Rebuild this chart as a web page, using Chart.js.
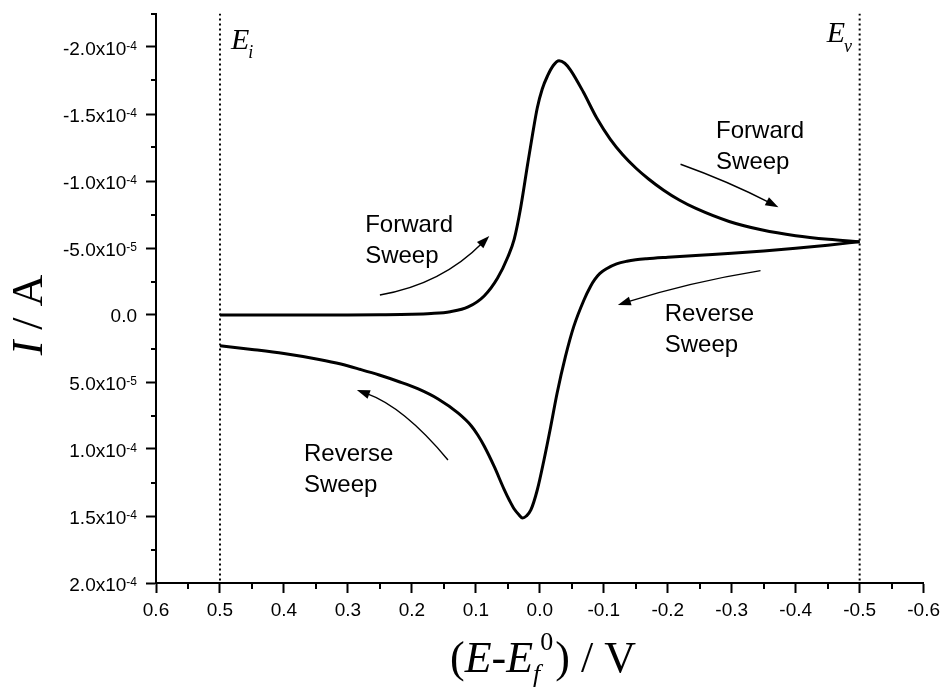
<!doctype html>
<html>
<head>
<meta charset="utf-8">
<title>Cyclic Voltammogram</title>
<script src="https://cdn.jsdelivr.net/npm/chart.js"></script>
<style>
  html, body { margin: 0; padding: 0; background: #fff; }
  canvas { display: block; }
</style>
</head>
<body>
<canvas id="chart" width="946" height="695"></canvas>
<script>
// potential (E - Ef0) / V and current I / A (cathodic current negative, drawn upward)
const forwardE = [0.500, 0.400, 0.300, 0.250, 0.200, 0.170, 0.140, 0.112, 0.087, 0.066, 0.050, 0.040, 0.030,
  0.019, 0.011, 0.004, -0.0038, -0.012, -0.021, -0.030, -0.039, -0.048, -0.068, -0.089, -0.110, -0.130,
  -0.150, -0.170, -0.193, -0.218, -0.244, -0.296, -0.348, -0.400, -0.451, -0.500];
const forwardI = [0, 0, 0, -0.015e-5, -0.05e-5, -0.11e-5, -0.25e-5, -0.60e-5, -1.42e-5, -2.76e-5, -4.33e-5,
  -5.67e-5, -7.99e-5, -11.27e-5, -13.58e-5, -15.45e-5, -16.87e-5, -17.84e-5, -18.62e-5, -18.98e-5, -18.79e-5,
  -18.28e-5, -16.64e-5, -14.70e-5, -13.13e-5, -11.94e-5, -10.97e-5, -10.15e-5, -9.33e-5, -8.58e-5, -7.95e-5,
  -6.98e-5, -6.34e-5, -5.92e-5, -5.65e-5, -5.47e-5];

const reverseE = [-0.500, -0.450, -0.400, -0.350, -0.300, -0.250, -0.200, -0.167, -0.150, -0.136, -0.120,
  -0.105, -0.094, -0.086, -0.079, -0.069, -0.053, -0.040, -0.027, -0.017, -0.0065, 0.004, 0.014, 0.021,
  0.027, 0.033, 0.040, 0.047, 0.056, 0.071, 0.087, 0.097, 0.107, 0.128, 0.159, 0.190, 0.221, 0.251, 0.280,
  0.311, 0.345, 0.400, 0.450, 0.500];
const reverseI = [-5.47e-5, -5.21e-5, -4.98e-5, -4.78e-5, -4.60e-5, -4.46e-5, -4.31e-5, -4.20e-5, -4.12e-5,
  -4.01e-5, -3.81e-5, -3.47e-5, -3.10e-5, -2.65e-5, -2.11e-5, -1.12e-5, 0.87e-5, 3.11e-5, 5.84e-5, 8.34e-5,
  10.82e-5, 13.06e-5, 14.55e-5, 15.0e-5, 15.15e-5, 14.89e-5, 14.48e-5, 13.88e-5, 12.99e-5, 11.34e-5, 9.78e-5,
  8.96e-5, 8.28e-5, 7.31e-5, 6.27e-5, 5.52e-5, 4.96e-5, 4.48e-5, 4.07e-5, 3.66e-5, 3.32e-5, 2.88e-5, 2.57e-5,
  2.29e-5];

// initial and vertex potentials
const markerE = [0.5, -0.5];
const markerName = ['i', 'v'];

const yTickValues = [-2.0e-4, -1.5e-4, -1.0e-4, -5.0e-5, 0, 5.0e-5, 1.0e-4, 1.5e-4, 2.0e-4];
const yTickBase = ['-2.0x10', '-1.5x10', '-1.0x10', '-5.0x10', '0.0', '5.0x10', '1.0x10', '1.5x10', '2.0x10'];
const yTickExp = ['-4', '-4', '-4', '-5', '', '-5', '-4', '-4', '-4'];

// sweep labels and arrows, in data coordinates (E, I)
const sweepLabels = [
  { lines: ['Forward', 'Sweep'], e: 0.273, i: -6.19e-5 },
  { lines: ['Forward', 'Sweep'], e: -0.2755, i: -13.19e-5 },
  { lines: ['Reverse', 'Sweep'], e: -0.1953, i: 0.45e-5 },
  { lines: ['Reverse', 'Sweep'], e: 0.3687, i: 10.87e-5 }
];
const sweepArrows = [
  [[0.250, -1.49e-5], [0.159, -2.99e-5], [0.079, -5.90e-5]],
  [[-0.220, -11.25e-5], [-0.296, -9.80e-5], [-0.373, -8.04e-5]],
  [[-0.345, -3.31e-5], [-0.234, -2.24e-5], [-0.122, -0.75e-5]],
  [[0.1436, 10.82e-5], [0.2135, 7.54e-5], [0.286, 5.60e-5]]
];

const SANS = '"Liberation Sans", Arial, sans-serif';
const SERIF = '"Liberation Serif", "Times New Roman", serif';

function drawRich(ctx, parts, x, y, align) {
  let w = 0;
  parts.forEach(p => { ctx.font = p.font; p.w = ctx.measureText(p.t).width + (p.dx || 0); w += p.w; });
  let cx = align === 'center' ? x - w / 2 : (align === 'right' ? x - w : x);
  ctx.textAlign = 'left';
  parts.forEach(p => { ctx.font = p.font; ctx.fillText(p.t, cx, y + (p.dy || 0)); cx += p.w; });
}

const decorPlugin = {
  id: 'decor',
  afterDraw(chart) {
    const ctx = chart.ctx;
    const xs = chart.scales.x, ys = chart.scales.y;
    const area = chart.chartArea;
    ctx.save();
    ctx.fillStyle = '#000';
    ctx.strokeStyle = '#000';

    // minor ticks
    ctx.lineWidth = 2;
    ctx.beginPath();
    for (let k = 0; k < 9; k++) {
      const v = -2.25e-4 + k * 5e-5;
      const py = Math.round(ys.getPixelForValue(v));
      ctx.moveTo(area.left - 5, py); ctx.lineTo(area.left, py);
    }
    for (let k = 0; k < 12; k++) {
      const v = 0.55 - k * 0.1;
      const px = Math.round(xs.getPixelForValue(v));
      ctx.moveTo(px, area.bottom); ctx.lineTo(px, area.bottom + 6);
    }
    ctx.stroke();

    // y tick labels with exponents
    ctx.textBaseline = 'alphabetic';
    yTickValues.forEach((v, k) => {
      const py = ys.getPixelForValue(v);
      const right = area.left - 19;
      if (yTickExp[k]) {
        ctx.font = '12px ' + SANS;
        const ew = ctx.measureText(yTickExp[k]).width;
        ctx.textAlign = 'right';
        ctx.fillText(yTickExp[k], right, py + 3.3);
        ctx.font = '19px ' + SANS;
        ctx.fillText(yTickBase[k], right - ew, py + 8.3);
      } else {
        ctx.font = '19px ' + SANS;
        ctx.textAlign = 'right';
        ctx.fillText(yTickBase[k], right, py + 7);
      }
    });

    // Ei / Ev labels
    markerE.forEach((e, k) => {
      const px = xs.getPixelForValue(e);
      const x0 = k === 0 ? px + 11 : px - 33;
      ctx.textAlign = 'left';
      ctx.font = 'italic 30px ' + SERIF;
      ctx.fillText('E', x0, k === 0 ? 49 : 42);
      const w = ctx.measureText('E').width;
      ctx.font = 'italic 18px ' + SERIF;
      ctx.fillText(markerName[k], x0 + w - 1, k === 0 ? 58 : 52);
    });

    // sweep labels
    ctx.font = '24px ' + SANS;
    ctx.textAlign = 'left';
    sweepLabels.forEach(l => {
      const px = xs.getPixelForValue(l.e), py = ys.getPixelForValue(l.i);
      l.lines.forEach((t, j) => ctx.fillText(t, px, py + j * 31));
    });

    // arrows
    sweepArrows.forEach(a => {
      const p = a.map(q => [xs.getPixelForValue(q[0]), ys.getPixelForValue(q[1])]);
      const cx = 2 * p[1][0] - (p[0][0] + p[2][0]) / 2;
      const cy = 2 * p[1][1] - (p[0][1] + p[2][1]) / 2;
      const ang = Math.atan2(p[2][1] - cy, p[2][0] - cx);
      const hl = 13, hw = 4.5;
      const bx = p[2][0] - hl * Math.cos(ang), by = p[2][1] - hl * Math.sin(ang);
      ctx.lineWidth = 1.4;
      ctx.beginPath();
      ctx.moveTo(p[0][0], p[0][1]);
      ctx.quadraticCurveTo(cx, cy, bx + 3 * Math.cos(ang), by + 3 * Math.sin(ang));
      ctx.stroke();
      ctx.beginPath();
      ctx.moveTo(p[2][0], p[2][1]);
      ctx.lineTo(bx - hw * Math.sin(ang), by + hw * Math.cos(ang));
      ctx.lineTo(bx + hw * Math.sin(ang), by - hw * Math.cos(ang));
      ctx.closePath();
      ctx.fill();
    });

    // axis titles
    ctx.textBaseline = 'alphabetic';
    drawRich(ctx, [
      { t: '(', font: '44px ' + SERIF },
      { t: 'E', font: 'italic 44px ' + SERIF },
      { t: '-', font: '44px ' + SERIF },
      { t: 'E', font: 'italic 44px ' + SERIF },
      { t: 'f', font: 'italic 26px ' + SERIF, dy: 10 },
      { t: '0', font: '26px ' + SERIF, dy: -22, dx: 2 },
      { t: ') / V', font: '44px ' + SERIF }
    ], 543, 672, 'center');

    ctx.translate(42, 315);
    ctx.rotate(-Math.PI / 2);
    drawRich(ctx, [
      { t: 'I', font: 'italic 44px ' + SERIF },
      { t: ' / A', font: '44px ' + SERIF }
    ], 0, 0, 'center');
    ctx.restore();
  }
};

const lineStyle = { borderColor: '#000', borderWidth: 3, pointRadius: 0, fill: false, cubicInterpolationMode: 'monotone' };
const dotStyle = { borderColor: '#000', borderWidth: 2, borderDash: [2, 3], pointRadius: 0, fill: false };

new Chart(document.getElementById('chart'), {
  type: 'line',
  data: {
    datasets: [
      Object.assign({ label: 'Forward', data: forwardE.map((e, k) => ({ x: e, y: forwardI[k] })) }, lineStyle),
      Object.assign({ label: 'Reverse', data: reverseE.map((e, k) => ({ x: e, y: reverseI[k] })) }, lineStyle),
      Object.assign({ label: 'Ei', data: [{ x: markerE[0], y: -2.25e-4 }, { x: markerE[0], y: 2.0e-4 }] }, dotStyle),
      Object.assign({ label: 'Ev', data: [{ x: markerE[1], y: -2.25e-4 }, { x: markerE[1], y: 2.0e-4 }] }, dotStyle)
    ]
  },
  options: {
    responsive: false,
    animation: false,
    layout: { padding: { left: 0, right: 17, top: 13.5, bottom: 0 } },
    plugins: { legend: { display: false }, tooltip: { enabled: false } },
    scales: {
      x: {
        type: 'linear', min: -0.6, max: 0.6, reverse: true,
        border: { display: true, color: '#000', width: 2 },
        grid: { drawOnChartArea: false, drawTicks: true, tickLength: 10, tickWidth: 2, tickColor: '#000' },
        ticks: {
          stepSize: 0.1, color: '#000', padding: 6, maxRotation: 0, autoSkip: false,
          font: { family: SANS, size: 19 },
          callback: v => (Math.abs(v) < 1e-9 ? 0 : v).toFixed(1)
        },
        afterFit: s => { s.height = 112; }
      },
      y: {
        type: 'linear', min: -2.25e-4, max: 2.0e-4, reverse: true,
        border: { display: true, color: '#000', width: 2 },
        grid: { drawOnChartArea: false, drawTicks: true, tickLength: 10, tickWidth: 2, tickColor: '#000' },
        ticks: { display: false, stepSize: 5e-5, includeBounds: false },
        afterFit: s => { s.width = 156; }
      }
    }
  },
  plugins: [decorPlugin]
});
</script>
</body>
</html>
